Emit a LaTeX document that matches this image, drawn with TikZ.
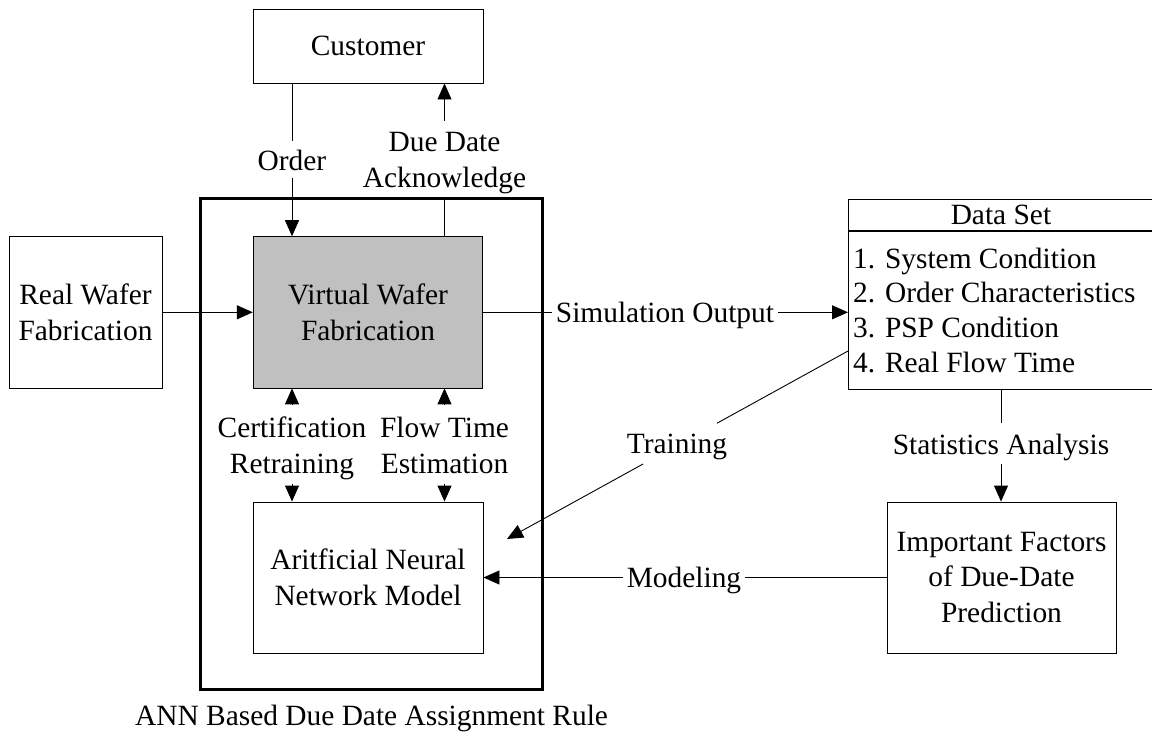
\documentclass[tikz,border=0pt]{standalone}
\usepackage{fontspec}
\setmainfont{Liberation Serif}
\usetikzlibrary{arrows.meta,calc}
\definecolor{boxgray}{HTML}{C0C0C0}
\begin{document}
\begin{tikzpicture}[x=1pt,y=-1pt,
  every node/.style={font=\fontsize{29.4}{35.5}\selectfont},
  box/.style={draw, line width=0.9pt, inner sep=0pt, align=center},
  lbl/.style={inner xsep=4pt, inner ysep=3pt, align=center},
  arr/.style={-{Triangle[length=16pt,width=14pt]}},
  conn/.style={line width=0.9pt}]
\path[use as bounding box, clip] (0,0) rectangle (1152,737);

% outer rule box
\node[draw, line width=3pt, minimum width=342.5, minimum height=491, inner sep=0pt] (rule) at (371.25,444) {};
\node[anchor=base west, inner sep=0pt] (cap) at (135,725) {ANN Based Due Date Assignment Rule};

% boxes
\node[box, minimum width=230, minimum height=74] (cust) at (368,46) {Customer};
\node[box, minimum width=153, minimum height=151.5] (real) at (85.5,312.3) {Real Wafer\\Fabrication};
\node[box, fill=boxgray, minimum width=229.4, minimum height=151.3] (virt) at (368,312.3) {Virtual Wafer\\Fabrication};
\node[box, minimum width=230, minimum height=151] (ann) at (368,577.5) {Aritficial Neural\\Network Model};
\node[box, minimum width=229, minimum height=151] (imp) at (1001.5,577.5) {Important Factors\\of Due-Date\\Prediction};

% data set
\node[box, minimum width=305, minimum height=31, anchor=north west] (dshead) at (848,199) {Data Set};
\node[box, minimum width=305, minimum height=158, anchor=north west] (dsbody) at (dshead.south west) {};
\node[anchor=west, align=left, inner xsep=5pt, inner ysep=0pt,
      font=\fontsize{29.4}{34.7}\selectfont] (dstext) at (dsbody.west)
  {1. System Condition\\2. Order Characteristics\\3. PSP Condition\\4. Real Flow Time};

% labels
\node[lbl, inner ysep=8pt, anchor=base] (order) at (292,170) {Order};
\node[lbl, anchor=north] (due) at (444.5,129.5) {Due Date\\Acknowledge};
\node[lbl, anchor=base] (sim) at (665,322) {Simulation Output};
\node[lbl, inner ysep=4pt, anchor=north] (cert) at (292,413) {Certification\\Retraining};
\node[lbl, inner ysep=4pt, anchor=north] (flow) at (444.5,413) {Flow Time\\Estimation};
\node[lbl, anchor=base] (train) at (677,453) {Training};
\node[lbl, anchor=north] (stat) at (1001,431) {Statistics Analysis};
\node[lbl, anchor=base] (model) at (684,587) {Modeling};

% connectors
\draw[conn] (cust.south -| order) -- (order.north);
\draw[conn,arr] (order.south) -- (virt.north -| order);

\draw[conn] (virt.north -| due) -- (due.south);
\draw[conn,arr,shorten <=9pt] (due.north) -- (due.north |- cust.south);

\draw[conn,arr] (real.east) -- (virt.west);

\draw[conn] (virt.east) -- (virt.east -| sim.west);
\draw[conn,arr] (virt.east -| sim.east) -- (virt.east -| dsbody.west);

\draw[conn,arr,shorten <=8pt] (cert.north) -- (cert.north |- virt.south);
\draw[conn,arr] (cert.south) -- (cert.south |- ann.north);
\draw[conn,arr,shorten <=8pt] (flow.north |- cert.north) -- (flow.north |- virt.south);
\draw[conn,arr] (flow.south |- cert.south) -- (flow.south |- ann.north);

\coordinate (trs) at (dsbody.west |- 0,351);
\coordinate (tre) at (507,539);
\draw[conn] (trs) -- ($(trs)!0.384!(tre)$);
\draw[conn,arr] ($(trs)!0.601!(tre)$) -- (tre);

\draw[conn,shorten >=8pt] (dsbody.south -| stat) -- (stat.north);
\draw[conn,arr] (stat.south) -- (stat.south |- imp.north);

\draw[conn] (imp.west) -- (imp.west -| model.east);
\draw[conn,arr] (imp.west -| model.west) -- (ann.east);
\end{tikzpicture}
\end{document}
